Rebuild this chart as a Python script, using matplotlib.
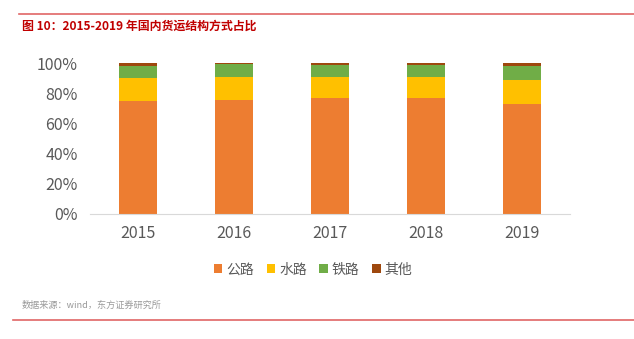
import matplotlib as mpl
mpl.use('Agg')
import matplotlib.pyplot as plt
import numpy as np
from matplotlib.ticker import PercentFormatter

plt.rcParams['font.family'] = ['Noto Sans CJK SC', 'DejaVu Sans']

years = ['2015', '2016', '2017', '2018', '2019']
road = [74.8, 75.7, 77.0, 76.8, 73.0]
water = [15.3, 15.3, 14.0, 14.2, 15.9]
rail = [8.1, 8.1, 7.9, 7.9, 9.3]
other = [1.8, 0.9, 1.1, 1.1, 1.8]

labels = ['公路', '水路', '铁路', '其他']
colors = ['#ED7D31', '#FFC000', '#70AD47', '#9E480E']

fig = plt.figure(figsize=(6.34, 3.39), dpi=100)
ax = fig.add_axes([90/634, 1 - 214/339, 480/634, 151/339])

x = np.arange(len(years))
bottom = np.zeros(len(years))
for vals, lab, col in zip([road, water, rail, other], labels, colors):
    ax.bar(x, vals, bottom=bottom, width=0.39, color=col, label=lab)
    bottom += np.array(vals)

ax.set_xlim(-0.5, len(years) - 0.5)
ax.set_ylim(0, 100)
ax.set_yticks(np.arange(0, 101, 20))
ax.yaxis.set_major_formatter(PercentFormatter(decimals=0))
ax.set_xticks(x)
ax.set_xticklabels(years)
ax.tick_params(axis='both', length=0, labelsize=11.5, colors='#595959', pad=8)
ax.tick_params(axis='y', pad=9)
for s in ['top', 'right', 'left']:
    ax.spines[s].set_visible(False)
ax.spines['bottom'].set_color('#D9D9D9')

ax.legend(loc='upper center', bbox_to_anchor=(0.465, -0.24), ncol=4, frameon=False,
          fontsize=10, handlelength=0.6, handleheight=0.6, handletextpad=0.3,
          columnspacing=0.9, labelcolor='#595959')

# header and footer rules
fig.add_artist(plt.Line2D([19/634, 1], [1 - 14/339] * 2, color='#E06666', lw=1.2))
fig.add_artist(plt.Line2D([13/634, 1], [1 - 320/339] * 2, color='#E06666', lw=1.2))
fig.text(22/634, 1 - 26.5/339, '图 10：2015-2019 年国内货运结构方式占比', color='#C00000',
         fontsize=8.6, fontweight='bold', va='center', ha='left')
fig.text(22/634, 1 - 305/339, '数据来源：wind，东方证券研究所', color='#999999',
         fontsize=6.6, va='center', ha='left')

fig.savefig('out.png', dpi=100)
